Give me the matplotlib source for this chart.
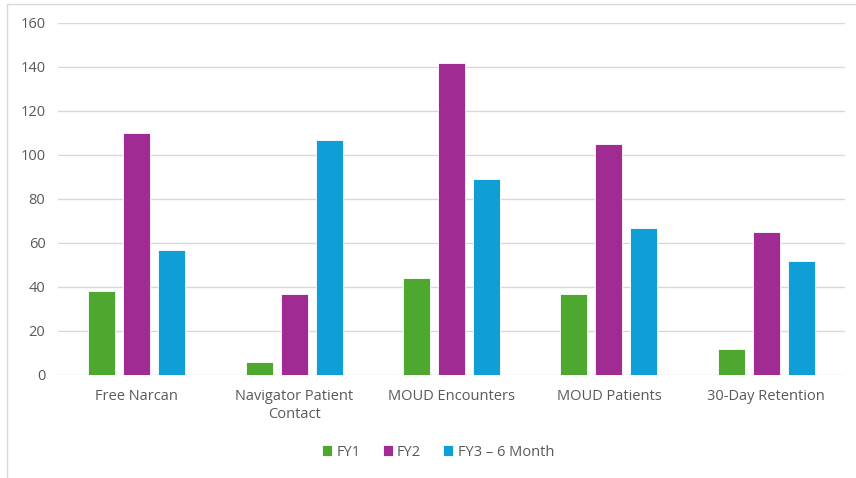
import matplotlib
matplotlib.use("Agg")
import matplotlib.pyplot as plt
import numpy as np
from matplotlib.patches import Rectangle

categories = ["Free Narcan", "Navigator Patient\nContact", "MOUD Encounters", "MOUD Patients", "30-Day Retention"]
series_names = ["FY1", "FY2", "FY3 – 6 Month"]
fy1 = [38, 6, 44, 37, 12]
fy2 = [110, 37, 142, 105, 65]
fy3 = [57, 107, 89, 67, 52]
colors = ["#4EA72E", "#A02B93", "#0F9ED5"]
yticks = [0, 20, 40, 60, 80, 100, 120, 140, 160]

plt.rcParams['font.family'] = ['Open Sans', 'DejaVu Sans']

W, H = 856, 478
fig = plt.figure(figsize=(W/100, H/100), dpi=100)
ax = fig.add_axes([58/W, 1-375/H, (845-58)/W, (375-23)/H])

x = np.arange(len(categories))
bw = 27/157.4
step = 35/157.4
for i, (vals, c, name) in enumerate(zip([fy1, fy2, fy3], colors, series_names)):
    ax.bar(x + (i-1)*step, vals, width=bw, color=c, edgecolor='white', linewidth=0.6, label=name, zorder=3)

ax.set_xlim(-0.5, len(categories)-0.5)
ax.set_ylim(0, 160)
ax.set_yticks(yticks)
ax.set_xticks(x)
ax.set_xticklabels(categories, linespacing=1.3)
ax.grid(axis='y', color='#d9d9d9', linewidth=1, zorder=0)
for s in ax.spines.values():
    s.set_visible(False)
ax.tick_params(axis='both', length=0, colors='#595959', labelsize=10.5)
ax.tick_params(axis='y', pad=9)
ax.tick_params(axis='x', pad=10)

leg = fig.legend(loc='center', bbox_to_anchor=(438/W, 1-452/H), ncol=3, frameon=False,
                 fontsize=10.5, handlelength=0.7, handleheight=0.7, handletextpad=0.3,
                 columnspacing=1.5, labelcolor='#595959')

fig.patches.append(Rectangle((7/W, -0.01), 1.0, 1-4/H+0.01, transform=fig.transFigure,
                             fill=False, edgecolor='#d9d9d9', linewidth=1))

fig.savefig("out.png", dpi=100)
